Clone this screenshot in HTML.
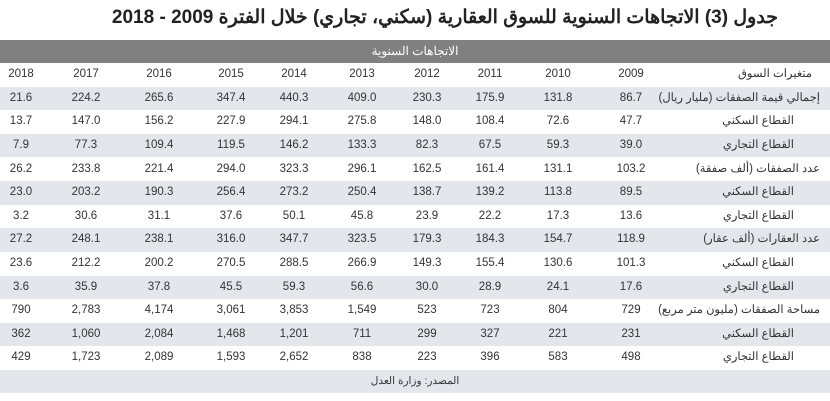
<!DOCTYPE html>
<html><head><meta charset="utf-8">
<style>
body{margin:0;width:830px;height:401px;background:#fff;overflow:hidden;position:relative;font-family:"Liberation Sans","Noto Sans CJK SC",sans-serif;color:#333}
#title{position:absolute;top:6px;left:0;width:890px;text-align:center;font-size:19px;font-weight:bold;color:#222;direction:rtl}
.row{position:absolute;left:0;width:830px;height:23.6px}
.cell{position:absolute;top:0;line-height:23.6px;font-size:11.5px;transform:translateX(-50%);white-space:nowrap}
.lab{position:absolute;top:0;right:10px;line-height:23.6px;font-size:11.5px;direction:rtl;white-space:nowrap}
</style></head><body>
<div id="title">جدول (3) الاتجاهات السنوية للسوق العقارية (سكني، تجاري) خلال الفترة 2009 - 2018</div>
<div id="tbl"></div>
<script>
const years=["2018","2017","2016","2015","2014","2013","2012","2011","2010","2009"];
const labels=["إجمالي قيمة الصفقات (مليار ريال)","القطاع السكني","القطاع التجاري","عدد الصفقات (ألف صفقة)","القطاع السكني","القطاع التجاري","عدد العقارات (ألف عقار)","القطاع السكني","القطاع التجاري","مساحة الصفقات (مليون متر مربع)","القطاع السكني","القطاع التجاري"];
const values=[
["21.6","224.2","265.6","347.4","440.3","409.0","230.3","175.9","131.8","86.7"],
["13.7","147.0","156.2","227.9","294.1","275.8","148.0","108.4","72.6","47.7"],
["7.9","77.3","109.4","119.5","146.2","133.3","82.3","67.5","59.3","39.0"],
["26.2","233.8","221.4","294.0","323.3","296.1","162.5","161.4","131.1","103.2"],
["23.0","203.2","190.3","256.4","273.2","250.4","138.7","139.2","113.8","89.5"],
["3.2","30.6","31.1","37.6","50.1","45.8","23.9","22.2","17.3","13.6"],
["27.2","248.1","238.1","316.0","347.7","323.5","179.3","184.3","154.7","118.9"],
["23.6","212.2","200.2","270.5","288.5","266.9","149.3","155.4","130.6","101.3"],
["3.6","35.9","37.8","45.5","59.3","56.6","30.0","28.9","24.1","17.6"],
["790","2,783","4,174","3,061","3,853","1,549","523","723","804","729"],
["362","1,060","2,084","1,468","1,201","711","299","327","221","231"],
["429","1,723","2,089","1,593","2,652","838","223","396","583","498"]];
const colX=[21,86,159,231,294,362,427,490,558,631];
const T=document.getElementById('tbl');
const RH=23.6, Y0=39.5;
function mkRow(i,bg){const r=document.createElement('div');r.className='row';r.style.top=(Y0+i*RH)+'px';r.style.background=bg;T.appendChild(r);return r;}
let h=mkRow(0,'#808080');


let ht=document.createElement('div');ht.className='cell';ht.style.left='415px';ht.style.color='#fff';ht.style.fontSize='12px';ht.textContent='الاتجاهات السنوية';


h.appendChild(ht);
let yr=mkRow(1,'#fff');


years.forEach((y,j)=>{const c=document.createElement('div');c.className='cell';c.style.left=colX[j]+'px';c.textContent=y;


yr.appendChild(c);});
let yl=document.createElement('div');yl.className='lab';yl.style.right='18px';yl.textContent='متغيرات السوق';


yr.appendChild(yl);
labels.forEach((l,i)=>{
 const r=mkRow(i+2,i%2===0?'#e3e7eb':'#fff');
 
 
 const lb=document.createElement('div');lb.className='lab';lb.textContent=l;
 if(l.startsWith('القطاع'))lb.style.right='36px';
 
 
 r.appendChild(lb);
 values[i].forEach((v,j)=>{const c=document.createElement('div');c.className='cell';c.style.left=colX[j]+'px';c.textContent=v;
 
 
 r.appendChild(c);});
});
let s=mkRow(labels.length+2,'#e3e7eb');


let st=document.createElement('div');st.className='cell';st.style.left='415px';st.style.fontSize='10.5px';st.style.direction='rtl';st.textContent='المصدر: وزارة العدل';


s.appendChild(st);
</script>
</body></html>
